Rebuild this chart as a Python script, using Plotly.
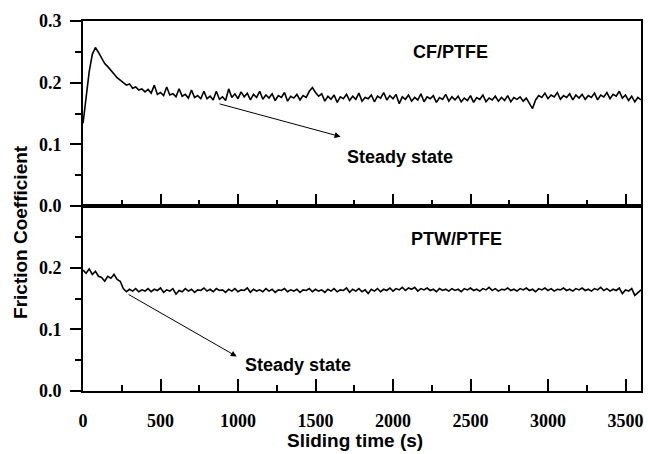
import plotly.graph_objects as go

# time axis (s)
time_s = list(range(0, 3601, 20))

# CF/PTFE friction coefficient
cf_ptfe = [
    0.134, 0.172, 0.218, 0.246, 0.257, 0.249, 0.240, 0.231, 0.226, 0.219, 0.214, 0.208, 0.204, 0.201, 0.196, 0.198, 0.191, 0.193, 0.188, 0.190,
    0.185, 0.189, 0.183, 0.196, 0.181, 0.184, 0.179, 0.193, 0.180, 0.182, 0.177, 0.190, 0.178, 0.181, 0.175, 0.188, 0.176, 0.179, 0.174, 0.186,
    0.174, 0.178, 0.172, 0.186, 0.173, 0.177, 0.171, 0.190, 0.176, 0.182, 0.174, 0.185, 0.177, 0.183, 0.172, 0.181, 0.176, 0.186, 0.173, 0.180,
    0.175, 0.182, 0.171, 0.179, 0.176, 0.184, 0.170, 0.178, 0.175, 0.181, 0.172, 0.179, 0.176, 0.186, 0.192, 0.184, 0.178, 0.182, 0.170, 0.178,
    0.173, 0.180, 0.168, 0.177, 0.174, 0.181, 0.171, 0.178, 0.173, 0.183, 0.170, 0.176, 0.174, 0.180, 0.169, 0.178, 0.175, 0.184, 0.172, 0.179,
    0.174, 0.181, 0.166, 0.177, 0.173, 0.180, 0.170, 0.176, 0.172, 0.182, 0.169, 0.177, 0.174, 0.179, 0.168, 0.176, 0.173, 0.181, 0.170, 0.177,
    0.172, 0.178, 0.169, 0.175, 0.171, 0.179, 0.168, 0.176, 0.173, 0.180, 0.169, 0.175, 0.172, 0.178, 0.170, 0.176, 0.171, 0.179, 0.169, 0.176,
    0.173, 0.177, 0.170, 0.175, 0.166, 0.158, 0.172, 0.179, 0.176, 0.183, 0.174, 0.180, 0.177, 0.184, 0.173, 0.179, 0.176, 0.182, 0.172, 0.180,
    0.175, 0.181, 0.173, 0.179, 0.176, 0.183, 0.172, 0.180, 0.177, 0.184, 0.174, 0.181, 0.178, 0.186, 0.175, 0.180, 0.171, 0.178, 0.169, 0.176,
    0.172,
]

# PTW/PTFE friction coefficient
ptw_ptfe = [
    0.196, 0.191, 0.198, 0.189, 0.194, 0.186, 0.184, 0.178, 0.186, 0.183, 0.189, 0.181, 0.178, 0.166, 0.161, 0.165, 0.162, 0.166, 0.161, 0.164,
    0.162, 0.166, 0.161, 0.165, 0.163, 0.167, 0.160, 0.164, 0.162, 0.166, 0.157, 0.163, 0.161, 0.166, 0.162, 0.165, 0.160, 0.164, 0.163, 0.167,
    0.162, 0.165, 0.161, 0.166, 0.163, 0.164, 0.160, 0.165, 0.162, 0.166, 0.161, 0.164, 0.163, 0.167, 0.160, 0.165, 0.162, 0.164, 0.161, 0.166,
    0.162, 0.165, 0.160, 0.164, 0.163, 0.166, 0.161, 0.164, 0.162, 0.165, 0.160, 0.164, 0.163, 0.166, 0.161, 0.165, 0.162, 0.164, 0.160, 0.165,
    0.162, 0.166, 0.161, 0.164, 0.163, 0.167, 0.160, 0.165, 0.162, 0.166, 0.161, 0.164, 0.158, 0.165, 0.162, 0.166, 0.161, 0.165, 0.163, 0.167,
    0.162, 0.166, 0.164, 0.168, 0.163, 0.167, 0.165, 0.168, 0.162, 0.166, 0.164, 0.167, 0.163, 0.165, 0.161, 0.166, 0.163, 0.165, 0.162, 0.166,
    0.163, 0.165, 0.161, 0.166, 0.164, 0.167, 0.163, 0.165, 0.162, 0.166, 0.164, 0.168, 0.163, 0.166, 0.162, 0.165, 0.164, 0.167, 0.163, 0.165,
    0.162, 0.166, 0.164, 0.167, 0.163, 0.165, 0.161, 0.166, 0.164, 0.167, 0.163, 0.166, 0.162, 0.165, 0.164, 0.167, 0.163, 0.165, 0.162, 0.166,
    0.164, 0.167, 0.163, 0.165, 0.162, 0.166, 0.164, 0.168, 0.163, 0.166, 0.162, 0.165, 0.163, 0.167, 0.158, 0.164, 0.162, 0.166, 0.155, 0.160,
    0.164,
]

panel_labels = ["CF/PTFE", "PTW/PTFE"]
x_tick_vals = [0, 500, 1000, 1500, 2000, 2500, 3000, 3500]
y_top_ticks = [0.0, 0.1, 0.2, 0.3]
y_bot_ticks = [0.0, 0.1, 0.2]

SERIF = "Liberation Serif"
SANS = "Liberation Sans"

fig = go.Figure()
fig.add_trace(go.Scatter(x=time_s, y=ptw_ptfe, mode="lines", xaxis="x", yaxis="y",
                         line=dict(color="black", width=1.6), showlegend=False))
fig.add_trace(go.Scatter(x=time_s, y=cf_ptfe, mode="lines", xaxis="x2", yaxis="y2",
                         line=dict(color="black", width=1.6), showlegend=False))

tickfont = dict(family=SERIF, size=18, color="black", weight="bold")

xcommon = dict(range=[0, 3600], showline=True, linecolor="black", linewidth=2, mirror=True,
               ticks="inside", ticklen=12, tickwidth=2, tickcolor="black",
               tickvals=x_tick_vals, showgrid=False, zeroline=False,
               minor=dict(ticks="inside", ticklen=6, tickwidth=2, dtick=250, tick0=0, tickcolor="black"))
ycommon = dict(showline=True, linecolor="black", linewidth=2, mirror=True,
               ticks="outside", ticklen=11, tickwidth=2, tickcolor="black",
               showgrid=False, zeroline=False, tickformat=".1f", tickfont=tickfont,
               ticklabelstandoff=5,
               minor=dict(ticks="outside", ticklen=6, tickwidth=2, dtick=0.05, tick0=0, tickcolor="black"))

fig.update_layout(
    width=648, height=454,
    margin=dict(l=83, r=7, t=21, b=63, autoexpand=False),
    paper_bgcolor="white", plot_bgcolor="white",
    xaxis=dict(**xcommon, anchor="y", tickfont=tickfont, ticklabelstandoff=12),
    xaxis2=dict(**xcommon, anchor="y2", matches="x", showticklabels=False),
    yaxis=dict(**ycommon, domain=[0, 0.5], range=[0, 0.3], tickvals=y_bot_ticks),
    yaxis2=dict(**ycommon, domain=[0.5, 1], range=[0, 0.3], tickvals=y_top_ticks),
)

annfont = dict(family=SANS, size=18, color="black", weight="bold")
annotations = [
    dict(x=2368, y=0.2495, xref="x2", yref="y2", text=panel_labels[0], showarrow=False, font=annfont),
    dict(x=2045, y=0.080, xref="x2", yref="y2", text="Steady state", showarrow=False, font=annfont),
    dict(x=2411, y=0.2458, xref="x", yref="y", text=panel_labels[1], showarrow=False, font=annfont),
    dict(x=1390, y=0.0415, xref="x", yref="y", text="Steady state", showarrow=False, font=annfont),
    # arrows
    dict(x=1662, y=0.1125, ax=871, ay=0.1663, xref="x2", yref="y2", axref="x2", ayref="y2",
         text="", showarrow=True, arrowhead=2, arrowsize=1.2, arrowwidth=1, arrowcolor="black"),
    dict(x=992, y=0.056, ax=284, ay=0.158, xref="x", yref="y", axref="x", ayref="y",
         text="", showarrow=True, arrowhead=2, arrowsize=1.2, arrowwidth=1, arrowcolor="black"),
    # axis titles
    dict(x=-0.111, y=0.43, xref="paper", yref="paper", xanchor="center", yanchor="middle",
         text="Friction Coefficient", textangle=-90,
         showarrow=False, font=dict(family=SANS, size=19, color="black", weight="bold")),
    dict(x=0.487, y=-0.135, xref="paper", yref="paper", xanchor="center", yanchor="middle",
         text="Sliding time (s)",
         showarrow=False, font=dict(family=SANS, size=19, color="black", weight="bold")),
]
fig.update_layout(annotations=annotations)

fig.write_html("out.html", config={"displayModeBar": False},
               post_script="document.body.style.margin='0';")
